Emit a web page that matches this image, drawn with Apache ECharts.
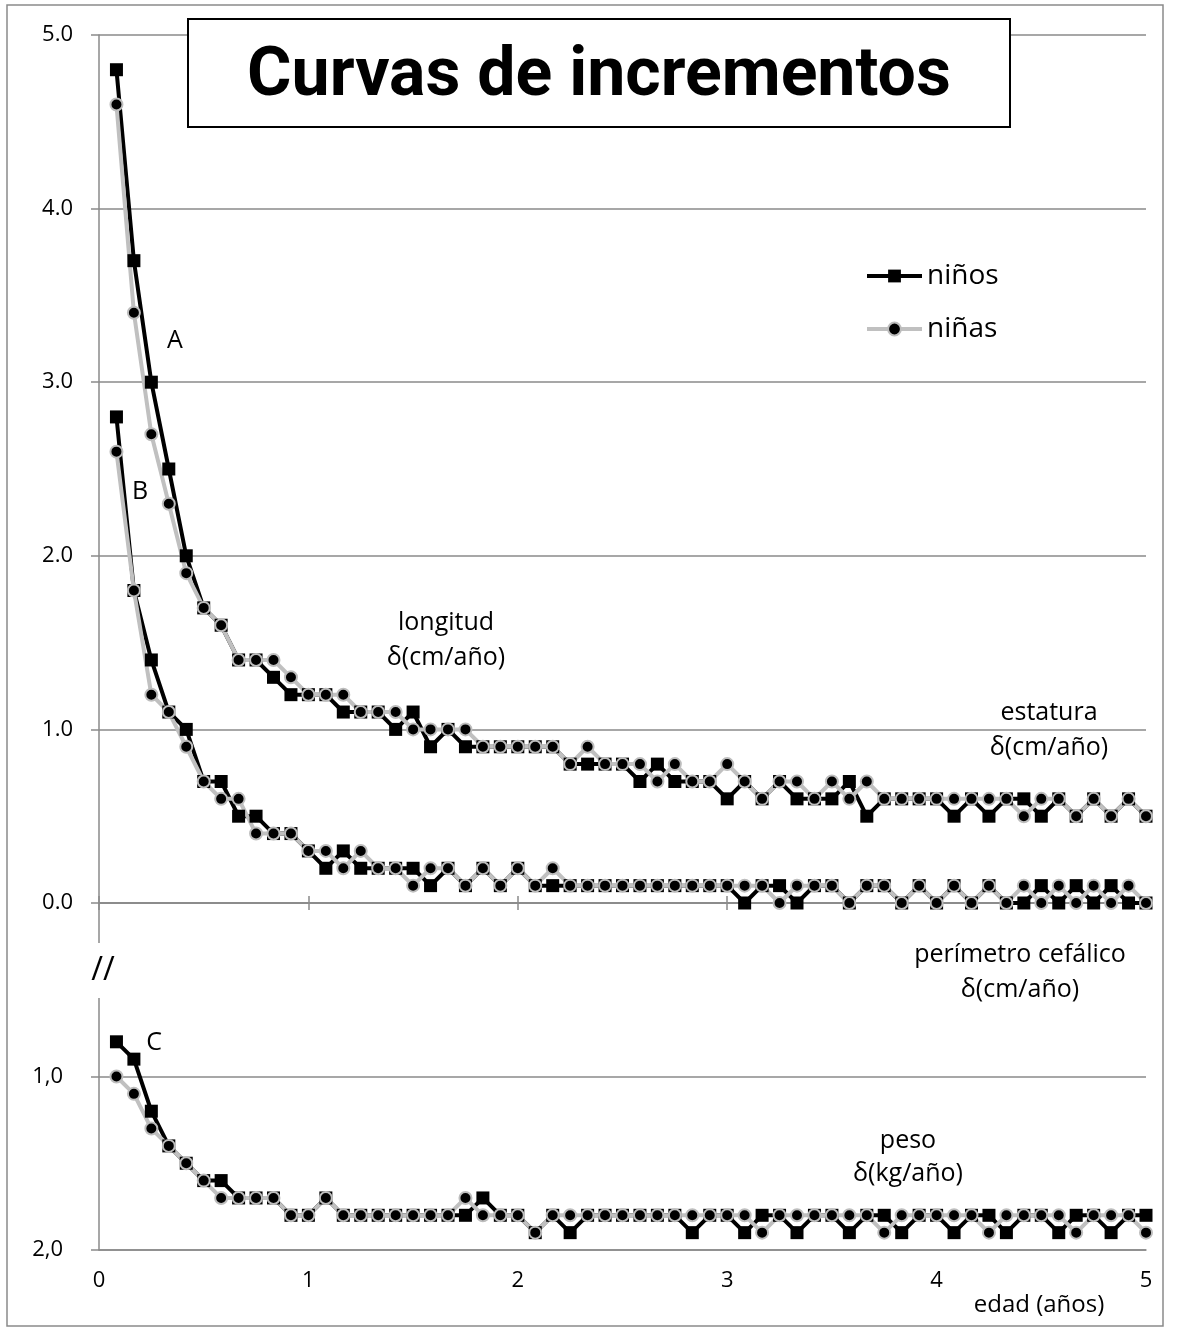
<!DOCTYPE html>
<html>
<head>
<meta charset="utf-8">
<script src="https://cdn.jsdelivr.net/npm/echarts@6/dist/echarts.min.js"></script>
<style>
html,body{margin:0;padding:0;background:#fff;}
#c{width:1180px;height:1334px;}
</style>
</head>
<body>
<div id="c"></div>
<script>
// edad en meses (1..60)
const meses = [1,2,3,4,5,6,7,8,9,10,11,12,13,14,15,16,17,18,19,20,
  21,22,23,24,25,26,27,28,29,30,31,32,33,34,35,36,37,38,39,40,
  41,42,43,44,45,46,47,48,49,50,51,52,53,54,55,56,57,58,59,60];

const ticksX = [0,1,2,3,4,5];
const ticksYSuperior = [0,1,2,3,4,5];
const ticksYInferior = [1,2];

// A: longitud / estatura δ(cm/año)
const longitudNinos = [4.8,3.7,3.0,2.5,2.0,1.7,1.6,1.4,1.4,1.3,
  1.2,1.2,1.2,1.1,1.1,1.1,1.0,1.1,0.9,1.0,
  0.9,0.9,0.9,0.9,0.9,0.9,0.8,0.8,0.8,0.8,
  0.7,0.8,0.7,0.7,0.7,0.6,0.7,0.6,0.7,0.6,
  0.6,0.6,0.7,0.5,0.6,0.6,0.6,0.6,0.5,0.6,
  0.5,0.6,0.6,0.5,0.6,0.5,0.6,0.5,0.6,0.5];
const longitudNinas = [4.6,3.4,2.7,2.3,1.9,1.7,1.6,1.4,1.4,1.4,
  1.3,1.2,1.2,1.2,1.1,1.1,1.1,1.0,1.0,1.0,
  1.0,0.9,0.9,0.9,0.9,0.9,0.8,0.9,0.8,0.8,
  0.8,0.7,0.8,0.7,0.7,0.8,0.7,0.6,0.7,0.7,
  0.6,0.7,0.6,0.7,0.6,0.6,0.6,0.6,0.6,0.6,
  0.6,0.6,0.5,0.6,0.6,0.5,0.6,0.5,0.6,0.5];

// B: perímetro cefálico δ(cm/año)
const perimetroNinos = [2.8,1.8,1.4,1.1,1.0,0.7,0.7,0.5,0.5,0.4,
  0.4,0.3,0.2,0.3,0.2,0.2,0.2,0.2,0.1,0.2,
  0.1,0.2,0.1,0.2,0.1,0.1,0.1,0.1,0.1,0.1,
  0.1,0.1,0.1,0.1,0.1,0.1,0.0,0.1,0.1,0.0,
  0.1,0.1,0.0,0.1,0.1,0.0,0.1,0.0,0.1,0.0,
  0.1,0.0,0.0,0.1,0.0,0.1,0.0,0.1,0.0,0.0];
const perimetroNinas = [2.6,1.8,1.2,1.1,0.9,0.7,0.6,0.6,0.4,0.4,
  0.4,0.3,0.3,0.2,0.3,0.2,0.2,0.1,0.2,0.2,
  0.1,0.2,0.1,0.2,0.1,0.2,0.1,0.1,0.1,0.1,
  0.1,0.1,0.1,0.1,0.1,0.1,0.1,0.1,0.0,0.1,
  0.1,0.1,0.0,0.1,0.1,0.0,0.1,0.0,0.1,0.0,
  0.1,0.0,0.1,0.0,0.1,0.0,0.1,0.0,0.1,0.0];

// C: peso δ(kg/año)  (eje inferior invertido)
const pesoNinos = [0.8,0.9,1.2,1.4,1.5,1.6,1.6,1.7,1.7,1.7,
  1.8,1.8,1.7,1.8,1.8,1.8,1.8,1.8,1.8,1.8,
  1.8,1.7,1.8,1.8,1.9,1.8,1.9,1.8,1.8,1.8,
  1.8,1.8,1.8,1.9,1.8,1.8,1.9,1.8,1.8,1.9,
  1.8,1.8,1.9,1.8,1.8,1.9,1.8,1.8,1.9,1.8,
  1.8,1.9,1.8,1.8,1.9,1.8,1.8,1.9,1.8,1.8];
const pesoNinas = [1.0,1.1,1.3,1.4,1.5,1.6,1.7,1.7,1.7,1.7,
  1.8,1.8,1.7,1.8,1.8,1.8,1.8,1.8,1.8,1.8,
  1.7,1.8,1.8,1.8,1.9,1.8,1.8,1.8,1.8,1.8,
  1.8,1.8,1.8,1.8,1.8,1.8,1.8,1.9,1.8,1.8,
  1.8,1.8,1.8,1.8,1.9,1.8,1.8,1.8,1.8,1.8,
  1.9,1.8,1.8,1.8,1.8,1.9,1.8,1.8,1.8,1.9];

const FONT = '"Open Sans", "Noto Sans", sans-serif';
const GRAY = '#8a8a8a';
const LINE_GRAY = '#c0c0c0';

function pts(vals) { return vals.map((v, i) => [meses[i] / 12, v]); }

const ninosStyle = {
  type: 'line', name: 'niños', symbol: 'rect', symbolSize: 13,
  itemStyle: { color: '#000' },
  lineStyle: { color: '#000', width: 4 },
  emphasis: { disabled: true }
};
const ninasStyle = {
  type: 'line', name: 'niñas', symbol: 'circle', symbolSize: 12,
  itemStyle: { color: '#000', borderColor: '#bdbdbd', borderWidth: 2 },
  lineStyle: { color: LINE_GRAY, width: 4 },
  emphasis: { disabled: true }
};

function textEl(x, y, text, size, extra) {
  return {
    type: 'text', x: x, y: y, z: 110, silent: true,
    style: Object.assign({
      text: text, fill: '#000', fontSize: size, fontFamily: FONT,
      align: 'center', verticalAlign: 'middle', lineHeight: 35
    }, extra || {})
  };
}

const chart = echarts.init(document.getElementById('c'), null, { renderer: 'canvas' });

const axisLineStyle = { color: GRAY, width: 1.5 };

chart.setOption({
  animation: false,
  backgroundColor: '#fff',
  grid: [
    { left: 99, top: 35, width: 1047, height: 868, containLabel: false, outerBoundsMode: 'none' },
    { left: 99, top: 903, width: 1047, height: 347, containLabel: false, outerBoundsMode: 'none' }
  ],
  legend: {
    orient: 'vertical', left: 865, top: 261, padding: 0,
    itemWidth: 55, itemHeight: 16, itemGap: 23,
    textStyle: { fontSize: 28, fontFamily: FONT, color: '#000', lineHeight: 30 },
    data: [
      { name: 'niños', itemStyle: { color: '#000' }, lineStyle: { color: '#000', width: 4 } },
      { name: 'niñas', itemStyle: { color: '#000', borderColor: '#bdbdbd', borderWidth: 2 }, lineStyle: { color: LINE_GRAY, width: 4 } }
    ],
    selectedMode: false
  },
  xAxis: [
    { gridIndex: 0, type: 'value', min: ticksX[0], max: ticksX[ticksX.length - 1], interval: 1,
      axisLine: { show: true, onZero: false, lineStyle: axisLineStyle },
      axisTick: { show: true, inside: false, length: 7, lineStyle: axisLineStyle },
      axisLabel: { show: false }, splitLine: { show: false } },
    { gridIndex: 1, type: 'value', min: ticksX[0], max: ticksX[ticksX.length - 1], interval: 1,
      axisLine: { show: true, onZero: false, lineStyle: axisLineStyle },
      axisTick: { show: false },
      axisLabel: { show: true, color: '#000', fontSize: 22, fontFamily: FONT, margin: 20 },
      splitLine: { show: false } },
    { gridIndex: 0, type: 'value', min: ticksX[0], max: ticksX[ticksX.length - 1], interval: 1, position: 'bottom',
      axisLine: { show: false },
      axisTick: { show: true, inside: true, length: 7, lineStyle: axisLineStyle },
      axisLabel: { show: false }, splitLine: { show: false } }
  ],
  yAxis: [
    { gridIndex: 0, type: 'value', min: ticksYSuperior[0], max: ticksYSuperior[ticksYSuperior.length - 1], interval: 1,
      axisLine: { show: true, onZero: false, lineStyle: axisLineStyle },
      axisTick: { show: true, length: 8, lineStyle: axisLineStyle },
      axisLabel: { show: true, color: '#000', fontSize: 22, fontFamily: FONT, margin: 26,
        formatter: v => v.toFixed(1) },
      splitLine: { show: true, lineStyle: axisLineStyle } },
    { gridIndex: 1, type: 'value', inverse: true, min: 0, max: ticksYInferior[ticksYInferior.length - 1], interval: 1,
      axisLine: { show: true, onZero: false, lineStyle: axisLineStyle },
      axisTick: { show: true, length: 8, lineStyle: axisLineStyle },
      axisLabel: { show: true, color: '#000', fontSize: 22, fontFamily: FONT, margin: 36,
        formatter: v => (ticksYInferior.indexOf(v) >= 0 ? v.toFixed(1).replace('.', ',') : '') },
      splitLine: { show: true, lineStyle: axisLineStyle } }
  ],
  series: [
    Object.assign({}, ninosStyle, { xAxisIndex: 0, yAxisIndex: 0, data: pts(longitudNinos) }),
    Object.assign({}, ninosStyle, { xAxisIndex: 0, yAxisIndex: 0, data: pts(perimetroNinos) }),
    Object.assign({}, ninosStyle, { xAxisIndex: 1, yAxisIndex: 1, data: pts(pesoNinos) }),
    Object.assign({}, ninasStyle, { xAxisIndex: 0, yAxisIndex: 0, data: pts(longitudNinas) }),
    Object.assign({}, ninasStyle, { xAxisIndex: 0, yAxisIndex: 0, data: pts(perimetroNinas) }),
    Object.assign({}, ninasStyle, { xAxisIndex: 1, yAxisIndex: 1, data: pts(pesoNinas) })
  ],
  graphic: [
    { type: 'rect', z: 90, silent: true, shape: { x: 7, y: 5, width: 1156, height: 1321 },
      style: { fill: null, stroke: GRAY, lineWidth: 1.5 } },
    // axis break
    { type: 'rect', z: 100, silent: true, shape: { x: 92, y: 943, width: 14, height: 55 }, style: { fill: '#fff' } },
    textEl(103, 971, '//', 32),
    // title box
    { type: 'rect', z: 100, silent: true, shape: { x: 188, y: 19, width: 822, height: 108 },
      style: { fill: '#fff', stroke: '#000', lineWidth: 2 } },
    textEl(599, 78, 'Curvas de incrementos', 68, { fontWeight: 'bold', fontFamily: 'Roboto, "Open Sans", sans-serif', lineHeight: 80 }),
    textEl(175, 341, 'A', 25),
    textEl(140, 492, 'B', 25),
    textEl(154, 1043, 'C', 25),
    textEl(446, 640, 'longitud\nδ(cm/año)', 25),
    textEl(1049, 730, 'estatura\nδ(cm/año)', 25),
    textEl(1020, 972, 'perímetro cefálico\nδ(cm/año)', 25),
    textEl(908, 1157, 'peso\nδ(kg/año)', 25, { lineHeight: 33 }),
    textEl(1039, 1305, 'edad (años)', 24)
  ]
});
</script>
</body>
</html>
